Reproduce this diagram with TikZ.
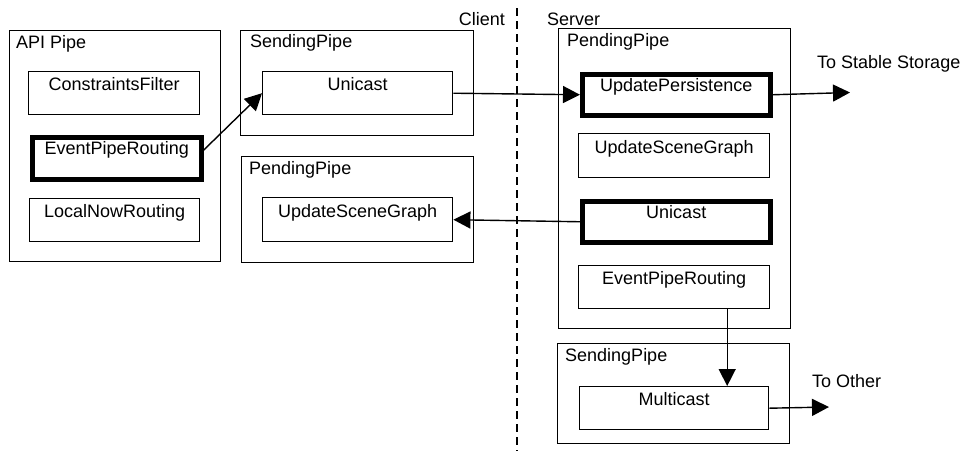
\documentclass[tikz,border=0pt]{standalone}
\usepackage{fontspec}
\setmainfont{Liberation Sans}
\usetikzlibrary{arrows.meta}
\begin{document}
\begin{tikzpicture}[x=1pt,y=-1pt,
  font=\fontsize{18}{21}\selectfont,
  outbox/.style={draw, line width=1.4pt, anchor=north west, inner sep=0pt},
  inbox/.style={draw, line width=1.4pt, anchor=north west, inner xsep=0pt, inner ysep=6pt,
     text height=13pt, text depth=18pt},
  thickbox/.style={inbox, line width=4.5pt},
  lbl/.style={inner sep=0pt},
  conn/.style={line width=1.4pt},
  arr/.style={conn, -{Triangle[length=17pt,width=17pt]}}]
\useasboundingbox (0,0) rectangle (970,451);
% outer boxes
\node[outbox, minimum width=211pt, minimum height=231pt] (api) at (9,30) {};
\node[outbox, minimum width=233pt, minimum height=105pt] (sendC) at (240,30) {};
\node[outbox, minimum width=232pt, minimum height=106pt] (pendC) at (241,156) {};
\node[outbox, minimum width=232pt, minimum height=300pt] (pendS) at (558,28) {};
\node[outbox, minimum width=232pt, minimum height=100pt] (sendS) at (557,343) {};
% outer labels
\node[lbl, anchor=base west] (apiL) at (16,48) {API Pipe};
\node[lbl, anchor=base west] (sendCL) at (250,47) {SendingPipe};
\node[lbl, anchor=base west] (pendCL) at (249,174) {PendingPipe};
\node[lbl, anchor=base west] (pendSL) at (567,46) {PendingPipe};
\node[lbl, anchor=base west] (sendSL) at (565,361) {SendingPipe};
\node[lbl, anchor=base east] (client) at (505,25) {Client};
\node[lbl, anchor=base west] (server) at (547,25) {Server};
% inner boxes
\node[inbox, minimum width=171pt, minimum height=42pt] (cf) at (28,71) {ConstraintsFilter};
\node[thickbox, minimum width=169pt, minimum height=42pt, text height=11pt, text depth=19pt] (epr) at (30,135) {EventPipeRouting};
\node[inbox, minimum width=170pt, minimum height=43pt] (lnr) at (29,198) {LocalNowRouting};
\node[inbox, minimum width=190pt, minimum height=42pt] (uni) at (262,71) {Unicast};
\node[inbox, minimum width=190pt, minimum height=44pt] (usgC) at (262,197) {UpdateSceneGraph};
\node[thickbox, minimum width=188pt, minimum height=41pt, text height=11pt, text depth=18pt] (up) at (580,72) {UpdatePersistence};
\node[inbox, minimum width=191pt, minimum height=44pt] (usgS) at (578,133) {UpdateSceneGraph};
\node[thickbox, minimum width=188pt, minimum height=41pt, text height=11pt, text depth=18pt] (uniS) at (580,199) {Unicast};
\node[inbox, minimum width=191pt, minimum height=42pt] (eprS) at (578,265) {EventPipeRouting};
\node[inbox, minimum width=189pt, minimum height=42pt] (mc) at (579,386) {Multicast};
% dashed divider
\coordinate (dtop) at (517,8);
\coordinate (dbot) at (517,451);
\draw[line width=1.8pt, dash pattern=on 8pt off 5pt] (dtop) -- (dbot);
% external ends
\coordinate (stable) at (850,92.5);
\coordinate (other) at (829,407);
\node[lbl, anchor=base west] (stableL) at (817,68) {To Stable Storage};
\node[lbl, anchor=base west] (otherL) at (812,387) {To Other};
% connectors
\draw[arr] ([yshift=8pt]epr.east) -- (uni.west);
\draw[arr] (uni.east) -- (up.west);
\draw[arr] (uniS.west) -- (usgC.east);
\draw[arr] (up.east) -- (stable);
\draw[arr] ([xshift=53pt]eprS.south) -- ([xshift=53pt]mc.north);
\draw[arr] (mc.east) -- (other);
\end{tikzpicture}
\end{document}
